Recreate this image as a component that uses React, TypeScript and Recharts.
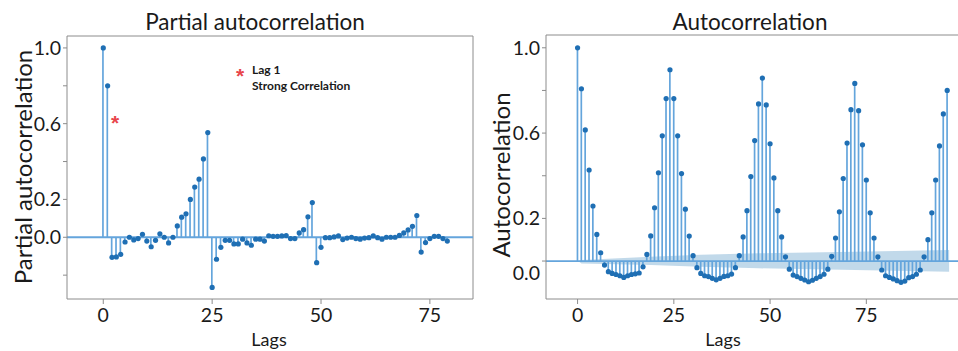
import React from "react";
import {
  ComposedChart,
  Bar,
  Scatter,
  Area,
  XAxis,
  YAxis,
  ReferenceLine,
} from "recharts";

// partial autocorrelation, lags 0..79
const pacfValues: number[] = [
  1.0, 0.8, -0.106, -0.104, -0.09, -0.025, 0.0, -0.014, -0.007, 0.016,
  -0.02, -0.05, -0.016, 0.018, 0.0, -0.03, 0.0, 0.06, 0.106, 0.124,
  0.2, 0.265, 0.307, 0.414, 0.553, -0.265, -0.116, -0.053, -0.016, -0.016,
  -0.035, -0.035, -0.01, -0.03, -0.042, -0.01, -0.01, -0.02, 0.008, 0.005,
  0.005, 0.007, 0.009, -0.007, -0.007, 0.023, 0.04, 0.108, 0.183, -0.134,
  -0.053, -0.002, -0.002, 0.002, 0.007, -0.012, -0.004, 0.0, -0.007, -0.01,
  -0.004, -0.002, 0.007, -0.002, -0.01, 0.0, 0.0, 0.0, 0.01, 0.023,
  0.039, 0.058, 0.115, -0.078, -0.028, -0.007, 0.005, 0.005, -0.007, -0.02,
];

// autocorrelation, lags 0..96
const acfValues: number[] = [
  1.0, 0.808, 0.615, 0.427, 0.258, 0.125, 0.039,
  -0.019, -0.05, -0.058, -0.063, -0.069, -0.077, -0.069, -0.063, -0.06, -0.056, -0.027,
  0.031, 0.118, 0.25, 0.414, 0.587, 0.762, 0.897, 0.762, 0.587, 0.41, 0.243, 0.117, 0.025,
  -0.031, -0.058, -0.069, -0.073, -0.081, -0.088, -0.081, -0.072, -0.069, -0.061, -0.031,
  0.025, 0.113, 0.236, 0.396, 0.565, 0.737, 0.858, 0.732, 0.55, 0.39, 0.236, 0.113, 0.02,
  -0.038, -0.066, -0.073, -0.081, -0.089, -0.097, -0.09, -0.081, -0.073, -0.062, -0.038,
  0.022, 0.108, 0.231, 0.387, 0.553, 0.71, 0.833, 0.705, 0.545, 0.38, 0.226, 0.108, 0.02,
  -0.042, -0.069, -0.077, -0.084, -0.092, -0.1, -0.094, -0.078, -0.073, -0.062, -0.042,
  0.02, 0.1, 0.226, 0.38, 0.54, 0.69, 0.8,
];

// confidence band of the ACF plot
const bandLags: number[] = [0.5, 1, 19, 32, 47, 72, 96.5];
const bandLower: number[] = [-0.004, -0.011, -0.019, -0.027, -0.034, -0.042, -0.05];
const bandUpper: number[] = [0.002, 0.005, 0.02, 0.03, 0.036, 0.044, 0.052];

const lagTicks: number[] = [0, 25, 50, 75];
const pacfYTicks: number[] = [-0.2, 0, 0.2, 0.4, 0.6, 0.8, 1.0];
const acfYTicks: number[] = [0, 0.2, 0.4, 0.6, 0.8, 1.0];
const labelledYTicks: number[] = [0, 0.2, 0.6, 1.0];

const FONT = "Lato, 'Open Sans', sans-serif";
const STEM = "#64a5dc";
const DOT = "#1f6fb4";
const FRAME = "#8c8c8c";
const TEXT = "#1a1a1a";

const pacfRows = pacfValues.map((value, lag) => ({ lag, value }));
const acfRows = acfValues.map((value, lag) => ({ lag, value }));
const bandRows = bandLags.map((lag, i) => ({
  lag,
  range: [bandLower[i], bandUpper[i]],
}));

const Marker = (p: any) => <circle cx={p.cx} cy={p.cy} r={2.6} fill={DOT} />;

const makeYTick = (zeroShift: number) => (props: any) => {
  const { x, y, payload } = props;
  const v = payload.value;
  const show = labelledYTicks.some((t) => Math.abs(t - v) < 1e-9);
  if (!show) return <g />;
  return (
    <text
      x={x}
      y={y + (Math.abs(v) < 1e-9 ? zeroShift : 0)}
      dy="0.36em"
      textAnchor="end"
      fill={TEXT}
      fontSize={19.5}
      fontFamily={FONT}
    >
      {v.toFixed(1)}
    </text>
  );
};

const xTickStyle = { fill: TEXT, fontSize: 19.5, fontFamily: FONT };

const abs = (left: number, top: number, extra: React.CSSProperties = {}) =>
  ({
    position: "absolute",
    left,
    top,
    fontFamily: FONT,
    color: TEXT,
    whiteSpace: "nowrap",
    ...extra,
  }) as React.CSSProperties;

const PACF_X: [number, number] = [-8.33, 84.9];
const PACF_Y: [number, number] = [-0.326, 1.063];
const ACF_X: [number, number] = [-8.2, 104];
const ACF_Y: [number, number] = [-0.178, 1.06];

const App: React.FC = () => {
  return (
    <div
      style={{
        position: "absolute",
        left: 0,
        top: 0,
        width: 958,
        height: 351,
        overflow: "hidden",
        background: "#fff",
      }}
    >
      {/* left panel: PACF */}
      <div style={{ position: "absolute", left: 0, top: 0 }}>
        <ComposedChart
          width={480}
          height={351}
          data={pacfRows}
          margin={{ top: 36, right: 7, bottom: 0, left: 0 }}
        >
          <XAxis
            dataKey="lag"
            type="number"
            domain={PACF_X}
            ticks={lagTicks}
            allowDataOverflow
            height={52}
            stroke={FRAME}
            tickSize={5}
            tickMargin={4}
            tick={xTickStyle}
          />
          <YAxis
            type="number"
            domain={PACF_Y}
            ticks={pacfYTicks}
            allowDataOverflow
            width={67}
            stroke={FRAME}
            tickSize={4}
            tickMargin={2}
            tick={makeYTick(0)}
          />
          <ReferenceLine x={PACF_X[1]} stroke={FRAME} />
          <ReferenceLine y={PACF_Y[1]} stroke={FRAME} />
          <ReferenceLine y={0} stroke={STEM} strokeWidth={1.8} />
          <Bar dataKey="value" barSize={1.7} fill={STEM} isAnimationActive={false} />
          <Scatter dataKey="value" shape={Marker} isAnimationActive={false} />
        </ComposedChart>
      </div>

      {/* right panel: ACF */}
      <div style={{ position: "absolute", left: 480, top: 0 }}>
        <ComposedChart
          width={500}
          height={351}
          data={acfRows}
          margin={{ top: 35, right: 2, bottom: 0, left: 0 }}
        >
          <XAxis
            dataKey="lag"
            type="number"
            domain={ACF_X}
            ticks={lagTicks}
            allowDataOverflow
            height={52}
            stroke={FRAME}
            tickSize={5}
            tickMargin={4}
            tick={xTickStyle}
          />
          <YAxis
            type="number"
            domain={ACF_Y}
            ticks={acfYTicks}
            allowDataOverflow
            width={66}
            stroke={FRAME}
            tickSize={4}
            tickMargin={2}
            tick={makeYTick(12)}
          />
          <ReferenceLine x={ACF_X[1]} stroke={FRAME} />
          <ReferenceLine y={ACF_Y[1]} stroke={FRAME} />
          <Area
            data={bandRows}
            dataKey="range"
            type="linear"
            fill="#1f77b4"
            fillOpacity={0.28}
            stroke="none"
            isAnimationActive={false}
          />
          <ReferenceLine y={0} stroke={STEM} strokeWidth={1.8} />
          <Bar dataKey="value" barSize={1.7} fill={STEM} isAnimationActive={false} />
          <Scatter dataKey="value" shape={Marker} isAnimationActive={false} />
        </ComposedChart>
      </div>

      {/* titles and axis labels */}
      <div style={abs(255, 21, { fontSize: 22.5, transform: "translate(-50%, -50%)" })}>
        Partial autocorrelation
      </div>
      <div style={abs(750, 21, { fontSize: 22.5, transform: "translate(-50%, -50%)" })}>
        Autocorrelation
      </div>
      <div
        style={abs(22, 167, {
          fontSize: 24,
          transform: "translate(-50%, -50%) rotate(-90deg)",
        })}
      >
        Partial autocorrelation
      </div>
      <div
        style={abs(500, 175, {
          fontSize: 24,
          transform: "translate(-50%, -50%) rotate(-90deg)",
        })}
      >
        Autocorrelation
      </div>
      <div style={abs(269, 339, { fontSize: 18, transform: "translate(-50%, -50%)" })}>
        Lags
      </div>
      <div style={abs(723, 339, { fontSize: 18, transform: "translate(-50%, -50%)" })}>
        Lags
      </div>

      {/* annotations */}
      <div
        style={abs(115, 118, {
          color: "#e8454a",
          fontSize: 21,
          fontWeight: 700,
          fontFamily: "'Liberation Sans', sans-serif",
          transform: "translate(-50%, -28%)",
        })}
      >
        *
      </div>
      <div
        style={abs(240, 71, {
          color: "#e8454a",
          fontSize: 21,
          fontWeight: 700,
          fontFamily: "'Liberation Sans', sans-serif",
          transform: "translate(-50%, -28%)",
        })}
      >
        *
      </div>
      <div style={abs(252, 62, { fontSize: 12, fontWeight: 700, lineHeight: "16px" })}>
        Lag 1
        <br />
        Strong Correlation
      </div>
    </div>
  );
};

export default App;
